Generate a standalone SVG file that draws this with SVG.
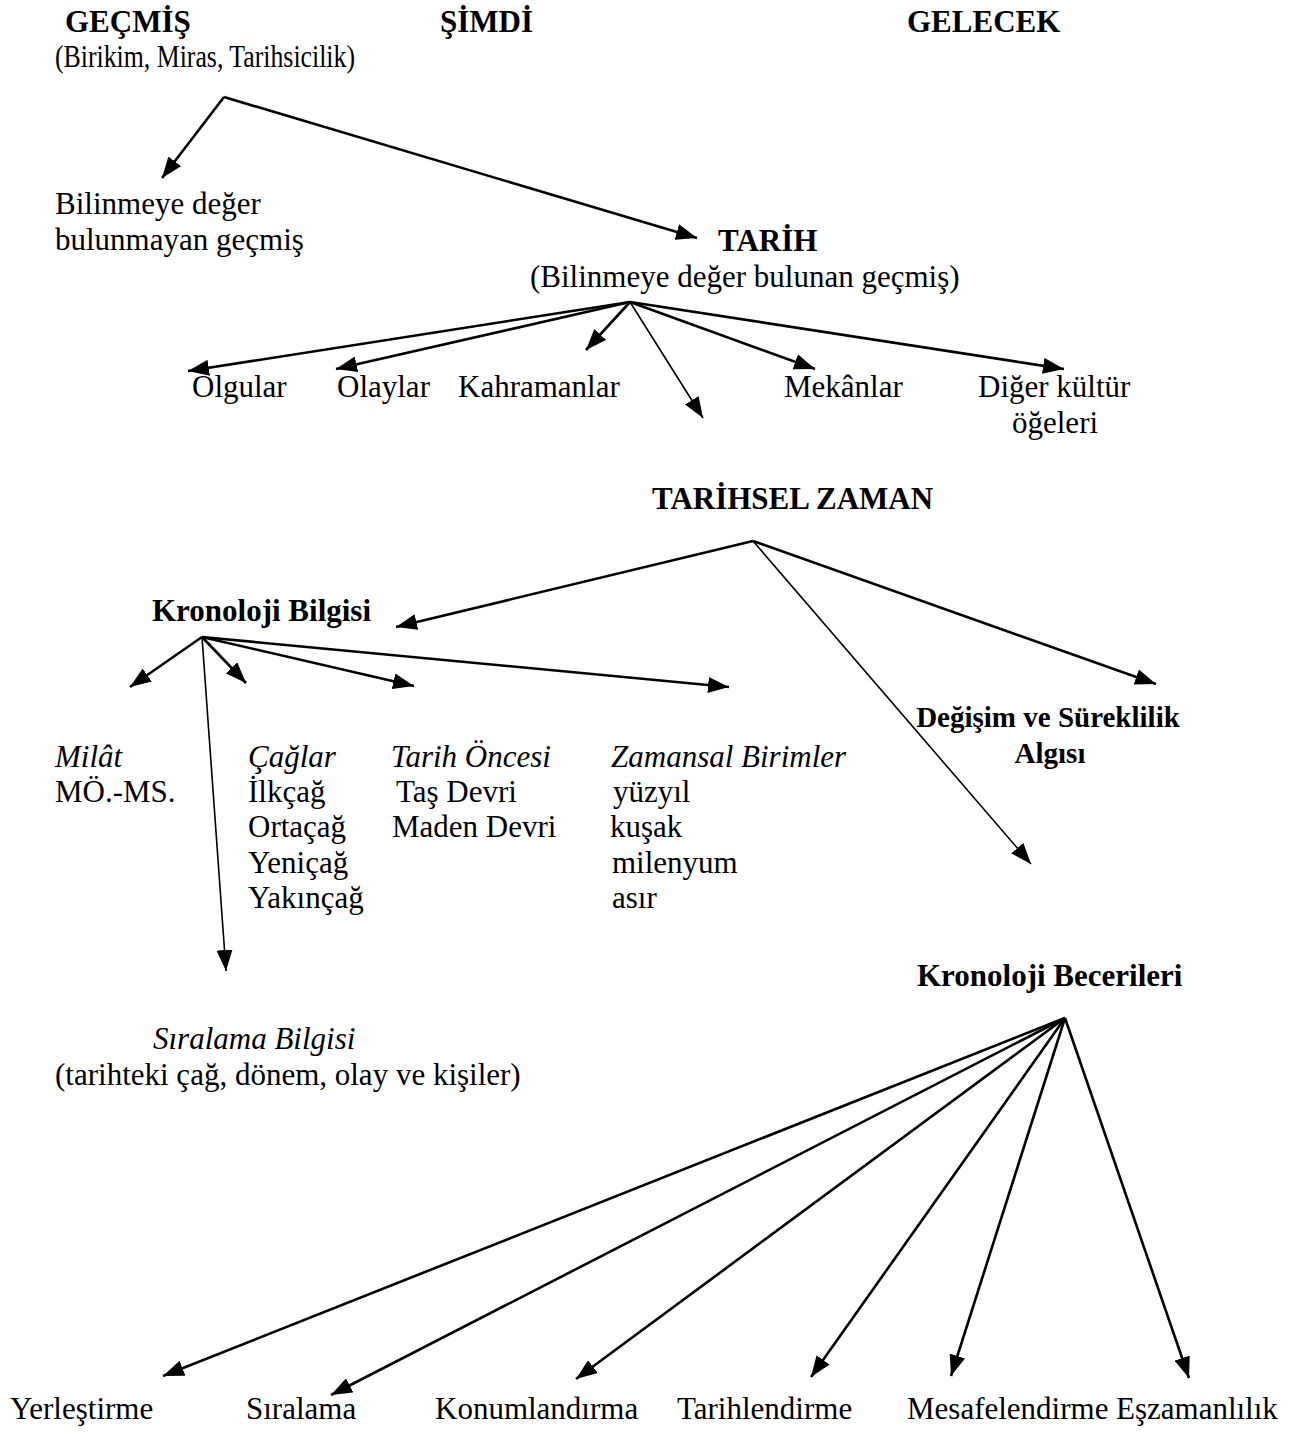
<svg xmlns="http://www.w3.org/2000/svg" width="1291" height="1434" viewBox="0 0 1291 1434">
<style>
text{font-family:"Liberation Serif","Times New Roman",serif;font-size:31px;fill:#000}
.b{font-weight:bold}
.i{font-style:italic}
.s{font-size:29px}
.c{stroke:#000;fill:none;stroke-width:2.6}
.t{stroke:#000;fill:none;stroke-width:1.6}
</style>
<defs>
<marker id="ah" markerUnits="userSpaceOnUse" markerWidth="22" markerHeight="16" refX="21" refY="8" orient="auto">
<path d="M0,0 L21,8 L0,16 z" fill="#000"/>
</marker>
</defs>
<rect width="1291" height="1434" fill="#fff"/>
<g id="connectors">
<line class="c" x1="224" y1="97" x2="162" y2="178" marker-end="url(#ah)"/>
<line class="c" x1="224" y1="97" x2="697" y2="238" marker-end="url(#ah)"/>
<line class="c" x1="630" y1="302" x2="188" y2="371" marker-end="url(#ah)"/>
<line class="c" x1="630" y1="302" x2="336" y2="369" marker-end="url(#ah)"/>
<line class="c" x1="630" y1="302" x2="586" y2="350" marker-end="url(#ah)"/>
<line class="t" x1="630" y1="302" x2="703" y2="418" marker-end="url(#ah)"/>
<line class="c" x1="630" y1="302" x2="815" y2="369" marker-end="url(#ah)"/>
<line class="c" x1="630" y1="302" x2="1064" y2="369" marker-end="url(#ah)"/>
<line class="c" x1="753" y1="541" x2="396" y2="627" marker-end="url(#ah)"/>
<line class="c" x1="753" y1="541" x2="1156" y2="684" marker-end="url(#ah)"/>
<line class="t" x1="753" y1="541" x2="1031" y2="864" marker-end="url(#ah)"/>
<line class="c" x1="202" y1="637" x2="130" y2="687" marker-end="url(#ah)"/>
<line class="c" x1="202" y1="637" x2="246" y2="683" marker-end="url(#ah)"/>
<line class="c" x1="202" y1="637" x2="414" y2="686" marker-end="url(#ah)"/>
<line class="c" x1="202" y1="637" x2="729" y2="687" marker-end="url(#ah)"/>
<line class="t" x1="202" y1="637" x2="226" y2="971" marker-end="url(#ah)"/>
<line class="c" x1="1065" y1="1018" x2="163" y2="1376" marker-end="url(#ah)"/>
<line class="c" x1="1065" y1="1018" x2="331" y2="1395" marker-end="url(#ah)"/>
<line class="c" x1="1065" y1="1018" x2="576" y2="1379" marker-end="url(#ah)"/>
<line class="c" x1="1065" y1="1018" x2="811" y2="1377" marker-end="url(#ah)"/>
<line class="c" x1="1065" y1="1018" x2="951" y2="1376" marker-end="url(#ah)"/>
<line class="c" x1="1065" y1="1018" x2="1189" y2="1378" marker-end="url(#ah)"/>
</g>
<g id="gecmis"><text class="b" x="65" y="32">GEÇMİŞ</text><text x="55" y="67" textLength="300" lengthAdjust="spacingAndGlyphs">(Birikim, Miras, Tarihsicilik)</text></g>
<g id="simdi"><text class="b" x="440" y="32">ŞİMDİ</text></g>
<g id="gelecek"><text class="b" x="907" y="32">GELECEK</text></g>
<g id="bilinmeyen"><text x="55" y="214">Bilinmeye değer</text><text x="55" y="250">bulunmayan geçmiş</text></g>
<g id="tarih"><text class="b" x="718" y="251">TARİH</text><text x="530" y="287">(Bilinmeye değer bulunan geçmiş)</text></g>
<g id="olgular"><text x="192" y="397">Olgular</text></g>
<g id="olaylar"><text x="337" y="397">Olaylar</text></g>
<g id="kahramanlar"><text x="458" y="397">Kahramanlar</text></g>
<g id="mekanlar"><text x="784" y="397">Mekânlar</text></g>
<g id="diger"><text x="978" y="397">Diğer kültür</text><text x="1012" y="433">öğeleri</text></g>
<g id="tarihsel-zaman"><text class="b" x="652" y="509">TARİHSEL ZAMAN</text></g>
<g id="kronoloji-bilgisi"><text class="b" x="152" y="621">Kronoloji Bilgisi</text></g>
<g id="degisim"><text class="b s" x="1048" y="727" text-anchor="middle">Değişim ve Süreklilik</text><text class="b s" x="1050" y="763" text-anchor="middle">Algısı</text></g>
<g id="milat"><text class="i" x="55" y="767">Milât</text><text x="55" y="802">MÖ.-MS.</text></g>
<g id="caglar"><text class="i" x="248" y="767">Çağlar</text><text x="248" y="802">İlkçağ</text><text x="248" y="837">Ortaçağ</text><text x="248" y="873">Yeniçağ</text><text x="248" y="908">Yakınçağ</text></g>
<g id="tarih-oncesi"><text class="i" x="391" y="767">Tarih Öncesi</text><text x="396" y="802">Taş Devri</text><text x="392" y="837">Maden Devri</text></g>
<g id="zamansal"><text class="i" x="611" y="767">Zamansal Birimler</text><text x="613" y="802">yüzyıl</text><text x="610" y="837">kuşak</text><text x="612" y="873">milenyum</text><text x="612" y="908">asır</text></g>
<g id="kronoloji-becerileri"><text class="b" x="917" y="986">Kronoloji Becerileri</text></g>
<g id="siralama-bilgisi"><text class="i" x="153" y="1049">Sıralama Bilgisi</text><text x="55" y="1085">(tarihteki çağ, dönem, olay ve kişiler)</text></g>
<g id="yerlestirme"><text x="10" y="1419">Yerleştirme</text></g>
<g id="siralama"><text x="246" y="1419">Sıralama</text></g>
<g id="konumlandirma"><text x="435" y="1419">Konumlandırma</text></g>
<g id="tarihlendirme"><text x="677" y="1419">Tarihlendirme</text></g>
<g id="mesafelendirme"><text x="907" y="1419">Mesafelendirme</text></g>
<g id="eszamanlilik"><text x="1116" y="1419">Eşzamanlılık</text></g>
</svg>
